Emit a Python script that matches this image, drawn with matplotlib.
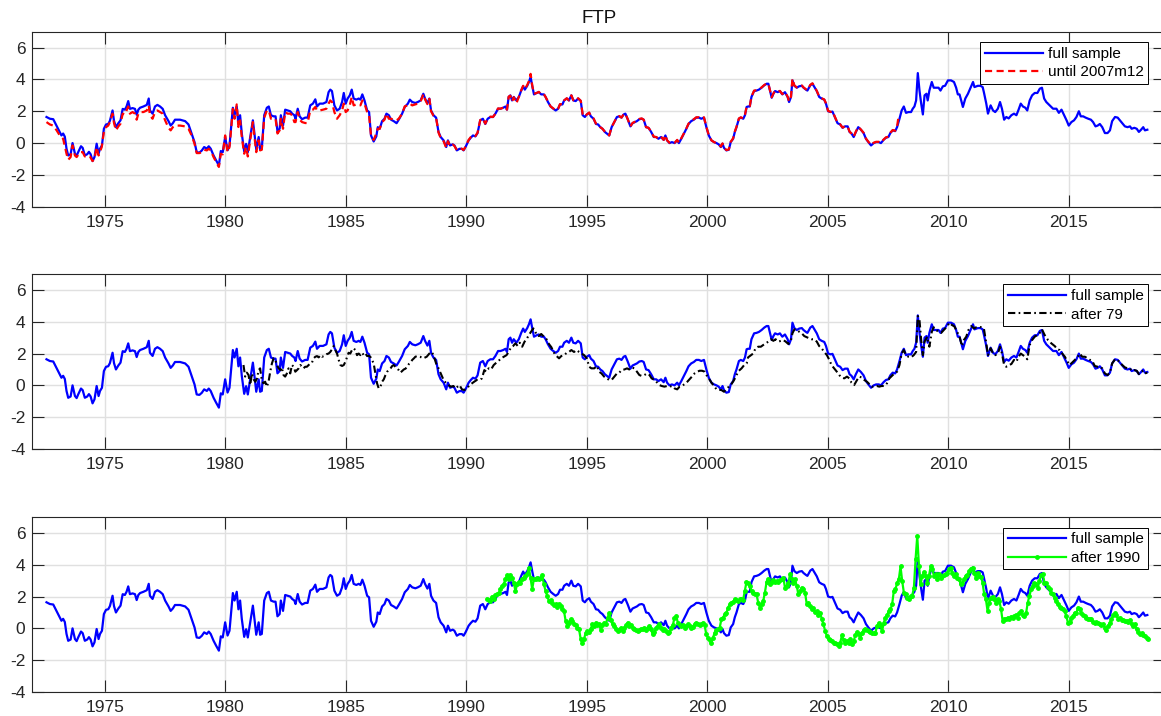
import numpy as np
import matplotlib
matplotlib.use("Agg")
import matplotlib.pyplot as plt

plt.rcParams['font.family'] = ['Liberation Sans', 'DejaVu Sans']
plt.rcParams['axes.unicode_minus'] = False

# ---- FTP estimates (decimal year, value) ----
full_sample = [
    (1972.59, 1.64), (1972.73, 1.53), (1972.87, 1.50), (1973.07, 0.90), (1973.21, 0.48), (1973.28, 0.60),
    (1973.35, 0.40), (1973.42, -0.35), (1973.49, -0.78), (1973.59, -0.70), (1973.67, 0.00), (1973.77, -0.67),
    (1973.84, -0.80), (1973.91, -0.55), (1974.02, -0.20), (1974.09, -0.30), (1974.18, -0.78), (1974.28, -0.70),
    (1974.35, -0.55), (1974.42, -0.70), (1974.50, -1.13), (1974.58, -0.88), (1974.67, -0.04), (1974.75, -0.67),
    (1974.81, -0.35), (1974.89, -0.15), (1974.97, 0.90), (1975.06, 1.17), (1975.15, 1.20), (1975.22, 1.40),
    (1975.33, 2.05), (1975.39, 1.40), (1975.47, 1.00), (1975.57, 1.25), (1975.66, 1.43), (1975.75, 2.15),
    (1975.84, 2.10), (1975.91, 2.30), (1975.98, 2.64), (1976.05, 2.15), (1976.16, 2.20), (1976.26, 2.15),
    (1976.33, 1.78), (1976.40, 2.10), (1976.47, 2.22), (1976.61, 2.30), (1976.75, 2.40), (1976.83, 2.80),
    (1976.88, 2.05), (1976.99, 1.85), (1977.09, 2.30), (1977.19, 2.40), (1977.30, 2.30), (1977.41, 2.15),
    (1977.51, 1.75), (1977.65, 1.38), (1977.74, 1.10), (1977.83, 1.25), (1977.92, 1.47), (1978.13, 1.47),
    (1978.34, 1.38), (1978.48, 1.17), (1978.61, 0.60), (1978.73, 0.06), (1978.82, -0.57), (1978.93, -0.60),
    (1979.03, -0.47), (1979.13, -0.25), (1979.24, -0.35), (1979.32, -0.20), (1979.40, -0.35), (1979.52, -0.78),
    (1979.63, -1.10), (1979.74, -1.40), (1979.82, -0.50), (1979.90, -0.57), (1980.00, 0.38), (1980.10, -0.45),
    (1980.18, -0.15), (1980.25, 1.00), (1980.32, 2.22), (1980.39, 1.75), (1980.48, 2.30), (1980.55, 1.20),
    (1980.62, 1.75), (1980.69, 0.60), (1980.79, -0.53), (1980.87, -0.05), (1980.94, -0.57), (1981.04, 0.38),
    (1981.15, 1.43), (1981.20, 0.80), (1981.29, -0.40), (1981.39, 0.38), (1981.45, -0.40), (1981.52, -0.35),
    (1981.62, 1.75), (1981.73, 2.22), (1981.81, 2.30), (1981.90, 1.75), (1982.01, 1.68), (1982.09, 1.68),
    (1982.17, 0.76), (1982.26, 0.90), (1982.31, 1.75), (1982.40, 1.10), (1982.49, 2.10), (1982.59, 2.05),
    (1982.70, 2.00), (1982.78, 1.85), (1982.87, 1.75), (1982.92, 1.53), (1983.01, 2.16), (1983.09, 1.68),
    (1983.19, 1.50), (1983.32, 1.60), (1983.42, 1.60), (1983.53, 2.37), (1983.64, 2.48), (1983.74, 2.75),
    (1983.81, 2.30), (1983.92, 2.48), (1984.06, 2.48), (1984.20, 2.58), (1984.29, 3.20), (1984.36, 3.36),
    (1984.43, 3.27), (1984.53, 2.37), (1984.64, 2.05), (1984.75, 2.16), (1984.85, 2.58), (1984.92, 3.15),
    (1985.00, 2.48), (1985.08, 2.80), (1985.17, 3.00), (1985.25, 3.36), (1985.33, 2.80), (1985.44, 2.73),
    (1985.54, 2.80), (1985.61, 2.73), (1985.69, 3.06), (1985.78, 2.68), (1985.89, 2.05), (1985.97, 1.95),
    (1986.05, 0.48), (1986.16, 0.10), (1986.27, 0.42), (1986.33, 1.00), (1986.41, 0.90), (1986.51, 1.38),
    (1986.61, 1.53), (1986.69, 1.85), (1986.79, 1.75), (1986.88, 1.47), (1986.99, 1.38), (1987.11, 1.25),
    (1987.20, 1.47), (1987.34, 1.85), (1987.45, 2.27), (1987.58, 2.48), (1987.66, 2.73), (1987.76, 2.58),
    (1987.89, 2.52), (1987.99, 2.58), (1988.11, 2.68), (1988.22, 3.10), (1988.29, 2.80), (1988.39, 2.50),
    (1988.47, 2.80), (1988.54, 2.05), (1988.64, 1.75), (1988.75, 1.60), (1988.85, 0.70), (1988.94, 0.38),
    (1989.06, 0.17), (1989.17, -0.25), (1989.24, 0.17), (1989.33, -0.15), (1989.44, -0.08), (1989.51, -0.15),
    (1989.61, -0.46), (1989.72, -0.36), (1989.82, -0.36), (1989.89, -0.46), (1989.97, -0.25), (1990.10, 0.17),
    (1990.19, 0.34), (1990.28, 0.48), (1990.38, 0.42), (1990.47, 0.63), (1990.58, 1.43), (1990.69, 1.53),
    (1990.79, 1.20), (1990.89, 1.53), (1991.00, 1.64), (1991.11, 1.64), (1991.21, 1.85), (1991.32, 2.16),
    (1991.42, 2.16), (1991.53, 2.22), (1991.63, 2.30), (1991.69, 2.10), (1991.76, 2.90), (1991.83, 3.00),
    (1991.90, 2.68), (1991.97, 2.90), (1992.08, 2.68), (1992.18, 2.90), (1992.28, 3.30), (1992.36, 3.57),
    (1992.43, 3.36), (1992.53, 3.60), (1992.60, 3.84), (1992.67, 4.15), (1992.74, 3.57), (1992.81, 3.06),
    (1992.92, 3.15), (1993.01, 3.20), (1993.11, 3.06), (1993.22, 3.06), (1993.29, 2.90), (1993.39, 2.58),
    (1993.50, 2.30), (1993.61, 2.16), (1993.71, 2.05), (1993.81, 2.16), (1993.89, 2.43), (1993.99, 2.43),
    (1994.06, 2.68), (1994.17, 2.80), (1994.26, 2.68), (1994.36, 3.00), (1994.44, 2.68), (1994.54, 2.64),
    (1994.64, 2.80), (1994.75, 2.64), (1994.83, 1.75), (1994.92, 1.64), (1995.00, 1.80), (1995.10, 1.90),
    (1995.17, 1.68), (1995.28, 1.53), (1995.38, 1.20), (1995.47, 1.17), (1995.56, 1.00), (1995.65, 0.90),
    (1995.75, 0.70), (1995.83, 0.60), (1995.93, 0.48), (1996.03, 1.00), (1996.14, 1.32), (1996.25, 1.64),
    (1996.35, 1.68), (1996.44, 1.60), (1996.53, 1.80), (1996.60, 1.85), (1996.69, 1.53), (1996.81, 1.05),
    (1996.90, 1.25), (1997.00, 1.32), (1997.08, 1.38), (1997.18, 1.50), (1997.28, 1.53), (1997.36, 1.47),
    (1997.46, 1.00), (1997.56, 0.96), (1997.67, 0.70), (1997.78, 0.38), (1997.88, 0.38), (1997.97, 0.27),
    (1998.08, 0.38), (1998.19, 0.20), (1998.26, 0.48), (1998.33, 0.17), (1998.43, 0.00), (1998.53, 0.06),
    (1998.64, 0.00), (1998.75, 0.17), (1998.82, 0.00), (1998.92, 0.27), (1999.03, 0.60), (1999.13, 0.90),
    (1999.22, 1.20), (1999.33, 1.38), (1999.44, 1.47), (1999.54, 1.60), (1999.65, 1.60), (1999.75, 1.53),
    (1999.86, 1.60), (1999.96, 1.00), (2000.06, 0.48), (2000.17, 0.17), (2000.28, 0.06), (2000.38, 0.00),
    (2000.47, -0.08), (2000.56, -0.25), (2000.63, -0.04), (2000.69, -0.30), (2000.79, -0.46), (2000.89, -0.42),
    (2000.97, 0.06), (2001.07, 0.27), (2001.14, 0.70), (2001.21, 1.00), (2001.31, 1.53), (2001.39, 1.60),
    (2001.49, 1.53), (2001.56, 1.75), (2001.63, 2.27), (2001.69, 2.30), (2001.76, 2.30), (2001.83, 2.90),
    (2001.94, 3.27), (2002.04, 3.30), (2002.14, 3.36), (2002.25, 3.48), (2002.36, 3.63), (2002.46, 3.73),
    (2002.53, 3.73), (2002.60, 3.30), (2002.67, 2.85), (2002.74, 3.10), (2002.81, 3.27), (2002.92, 3.20),
    (2003.01, 3.27), (2003.11, 3.06), (2003.22, 3.20), (2003.33, 2.90), (2003.39, 2.58), (2003.47, 2.90),
    (2003.53, 3.94), (2003.61, 3.60), (2003.71, 3.48), (2003.81, 3.57), (2003.92, 3.60), (2003.99, 3.48),
    (2004.09, 3.36), (2004.15, 3.30), (2004.27, 3.63), (2004.36, 3.73), (2004.43, 3.55), (2004.54, 3.27),
    (2004.64, 2.90), (2004.74, 2.80), (2004.85, 2.73), (2004.92, 2.48), (2005.01, 2.00), (2005.12, 1.95),
    (2005.19, 1.98), (2005.29, 1.64), (2005.40, 1.25), (2005.51, 1.17), (2005.61, 0.96), (2005.71, 1.05),
    (2005.82, 1.05), (2005.90, 0.70), (2005.98, 0.60), (2006.07, 0.38), (2006.16, 0.70), (2006.26, 1.00),
    (2006.37, 0.84), (2006.48, 0.63), (2006.58, 0.27), (2006.68, 0.06), (2006.79, -0.15), (2006.90, 0.00),
    (2007.00, 0.06), (2007.11, 0.06), (2007.20, 0.00), (2007.31, 0.20), (2007.41, 0.34), (2007.51, 0.38),
    (2007.59, 0.63), (2007.69, 0.80), (2007.79, 0.75), (2007.87, 1.00), (2007.97, 1.53), (2008.06, 2.05),
    (2008.15, 2.30), (2008.24, 1.90), (2008.34, 1.95), (2008.45, 1.95), (2008.52, 2.16), (2008.59, 2.30),
    (2008.66, 2.68), (2008.73, 4.40), (2008.80, 3.30), (2008.87, 2.48), (2008.94, 1.80), (2009.01, 3.00),
    (2009.09, 3.10), (2009.14, 2.68), (2009.21, 3.30), (2009.31, 3.84), (2009.39, 3.48), (2009.49, 3.48),
    (2009.59, 3.48), (2009.67, 3.30), (2009.77, 3.57), (2009.86, 3.60), (2009.98, 3.94), (2010.11, 3.94),
    (2010.23, 3.84), (2010.32, 3.48), (2010.39, 3.06), (2010.46, 3.06), (2010.53, 2.68), (2010.60, 2.27),
    (2010.70, 2.80), (2010.81, 3.10), (2010.92, 3.48), (2011.02, 3.84), (2011.08, 3.52), (2011.22, 3.60),
    (2011.33, 3.60), (2011.42, 3.52), (2011.47, 3.20), (2011.57, 2.48), (2011.64, 1.85), (2011.75, 2.37),
    (2011.85, 2.05), (2011.94, 1.95), (2012.05, 2.16), (2012.14, 2.58), (2012.22, 2.16), (2012.31, 1.47),
    (2012.40, 1.64), (2012.50, 1.55), (2012.61, 1.75), (2012.72, 1.85), (2012.82, 1.75), (2012.91, 2.10),
    (2013.00, 2.48), (2013.09, 2.30), (2013.19, 2.22), (2013.27, 2.05), (2013.37, 2.68), (2013.47, 3.00),
    (2013.58, 3.15), (2013.69, 3.15), (2013.79, 3.42), (2013.88, 3.48), (2013.97, 2.80), (2014.06, 2.58),
    (2014.20, 2.37), (2014.34, 2.16), (2014.48, 2.16), (2014.58, 1.90), (2014.69, 2.10), (2014.80, 1.75),
    (2014.90, 1.43), (2014.99, 1.10), (2015.10, 1.32), (2015.21, 1.43), (2015.31, 1.64), (2015.41, 2.00),
    (2015.49, 1.68), (2015.59, 1.68), (2015.69, 1.60), (2015.80, 1.53), (2015.91, 1.47), (2016.00, 1.32),
    (2016.10, 1.05), (2016.19, 1.10), (2016.28, 1.20), (2016.38, 1.00), (2016.49, 0.63), (2016.60, 0.63),
    (2016.70, 0.80), (2016.79, 1.38), (2016.91, 1.64), (2017.02, 1.60), (2017.11, 1.43), (2017.21, 1.25),
    (2017.32, 1.05), (2017.43, 1.00), (2017.53, 1.05), (2017.60, 0.90), (2017.71, 0.96), (2017.81, 0.90),
    (2017.90, 0.70), (2017.99, 0.84), (2018.08, 1.00), (2018.15, 0.80), (2018.25, 0.84),
]

until_2007m12 = [
    (1972.59, 1.32), (1972.73, 1.17), (1972.87, 1.10), (1973.01, 0.80), (1973.14, 0.48), (1973.28, 0.27),
    (1973.42, -0.67), (1973.49, -1.05), (1973.59, -0.88), (1973.67, -0.15), (1973.77, -0.78), (1973.84, -0.88),
    (1973.98, -0.57), (1974.09, -0.57), (1974.18, -0.84), (1974.28, -0.78), (1974.39, -0.84), (1974.50, -1.13),
    (1974.58, -0.98), (1974.67, -0.25), (1974.75, -0.78), (1974.88, -0.25), (1974.97, 0.70), (1975.06, 1.00),
    (1975.15, 1.10), (1975.22, 1.32), (1975.33, 1.85), (1975.39, 1.26), (1975.47, 0.80), (1975.57, 1.05),
    (1975.66, 1.22), (1975.75, 1.85), (1975.84, 1.80), (1975.98, 2.30), (1976.05, 1.85), (1976.16, 1.95),
    (1976.26, 1.85), (1976.33, 1.47), (1976.40, 1.85), (1976.47, 1.95), (1976.61, 1.95), (1976.75, 2.05),
    (1976.83, 2.37), (1976.88, 1.75), (1976.99, 1.53), (1977.09, 1.95), (1977.19, 2.05), (1977.30, 1.95),
    (1977.41, 1.85), (1977.51, 1.43), (1977.65, 0.96), (1977.74, 0.80), (1977.83, 1.00), (1977.92, 1.10),
    (1978.13, 1.10), (1978.34, 1.05), (1978.48, 0.90), (1978.61, 0.48), (1978.73, -0.04), (1978.82, -0.63),
    (1978.93, -0.63), (1979.03, -0.57), (1979.13, -0.42), (1979.24, -0.46), (1979.32, -0.36), (1979.40, -0.46),
    (1979.52, -0.88), (1979.63, -1.20), (1979.74, -1.50), (1979.82, -0.67), (1979.90, -0.71), (1980.00, 0.48),
    (1980.10, -0.57), (1980.18, -0.25), (1980.25, 0.90), (1980.32, 2.15), (1980.39, 1.53), (1980.48, 2.43),
    (1980.55, 1.01), (1980.62, 1.43), (1980.69, 0.38), (1980.79, -0.67), (1980.87, -0.25), (1980.94, -0.84),
    (1981.04, 0.17), (1981.15, 1.32), (1981.20, 0.59), (1981.29, -0.57), (1981.39, 0.17), (1981.45, -0.46),
    (1981.52, -0.42), (1981.62, 1.59), (1981.73, 2.05), (1981.81, 2.05), (1981.90, 1.53), (1982.01, 1.53),
    (1982.09, 1.53), (1982.17, 0.60), (1982.26, 0.80), (1982.31, 1.53), (1982.40, 0.90), (1982.49, 1.95),
    (1982.59, 1.85), (1982.70, 1.85), (1982.78, 1.74), (1982.87, 1.32), (1982.92, 1.32), (1983.01, 1.95),
    (1983.09, 1.47), (1983.19, 1.32), (1983.32, 1.26), (1983.42, 1.26), (1983.53, 2.05), (1983.64, 2.10),
    (1983.74, 2.27), (1983.81, 2.05), (1983.92, 2.05), (1984.06, 2.10), (1984.20, 2.16), (1984.29, 2.48),
    (1984.36, 2.68), (1984.43, 2.58), (1984.53, 1.95), (1984.64, 1.53), (1984.75, 1.75), (1984.85, 2.05),
    (1984.92, 2.48), (1985.00, 1.95), (1985.08, 2.05), (1985.17, 2.37), (1985.25, 2.90), (1985.33, 2.37),
    (1985.44, 2.43), (1985.54, 2.43), (1985.61, 2.37), (1985.69, 2.68), (1985.78, 2.48), (1985.89, 1.95),
    (1985.97, 1.74), (1986.05, 0.48), (1986.16, 0.20), (1986.27, 0.60), (1986.33, 0.90), (1986.41, 0.90),
    (1986.51, 1.32), (1986.61, 1.47), (1986.69, 1.85), (1986.79, 1.53), (1986.88, 1.53), (1986.99, 1.47),
    (1987.11, 1.43), (1987.20, 1.53), (1987.34, 1.85), (1987.45, 2.31), (1987.58, 2.37), (1987.66, 2.48),
    (1987.76, 2.37), (1987.89, 2.43), (1987.99, 2.48), (1988.11, 2.62), (1988.22, 3.08), (1988.29, 2.75),
    (1988.39, 2.45), (1988.47, 2.78), (1988.54, 2.00), (1988.64, 1.72), (1988.75, 1.58), (1988.85, 0.66),
    (1988.94, 0.32), (1989.06, 0.12), (1989.17, -0.30), (1989.24, 0.12), (1989.33, -0.20), (1989.44, -0.10),
    (1989.51, -0.18), (1989.61, -0.44), (1989.72, -0.34), (1989.82, -0.36), (1989.89, -0.44), (1989.97, -0.22),
    (1990.10, 0.20), (1990.19, 0.38), (1990.28, 0.50), (1990.38, 0.44), (1990.47, 0.66), (1990.58, 1.45),
    (1990.69, 1.55), (1990.79, 1.22), (1990.89, 1.55), (1991.00, 1.66), (1991.11, 1.64), (1991.21, 1.85),
    (1991.32, 2.18), (1991.42, 2.16), (1991.53, 2.22), (1991.63, 2.28), (1991.69, 2.10), (1991.76, 2.92),
    (1991.83, 2.98), (1991.90, 2.62), (1991.97, 2.88), (1992.08, 2.50), (1992.18, 2.90), (1992.28, 3.32),
    (1992.36, 3.60), (1992.43, 3.40), (1992.53, 3.65), (1992.60, 3.90), (1992.67, 4.35), (1992.74, 3.60),
    (1992.81, 3.10), (1992.92, 3.15), (1993.01, 3.22), (1993.11, 3.06), (1993.22, 3.08), (1993.29, 2.90),
    (1993.39, 2.60), (1993.50, 2.30), (1993.61, 2.18), (1993.71, 2.05), (1993.81, 2.16), (1993.89, 2.45),
    (1993.99, 2.43), (1994.06, 2.68), (1994.17, 2.82), (1994.26, 2.68), (1994.36, 3.00), (1994.44, 2.70),
    (1994.54, 2.64), (1994.64, 2.82), (1994.75, 2.66), (1994.83, 1.80), (1994.92, 1.66), (1995.00, 1.80),
    (1995.10, 1.92), (1995.17, 1.68), (1995.28, 1.55), (1995.38, 1.22), (1995.47, 1.17), (1995.56, 1.00),
    (1995.65, 0.90), (1995.75, 0.72), (1995.83, 0.60), (1995.93, 0.48), (1996.03, 1.00), (1996.14, 1.32),
    (1996.25, 1.64), (1996.35, 1.70), (1996.44, 1.60), (1996.53, 1.82), (1996.60, 1.85), (1996.69, 1.53),
    (1996.81, 1.05), (1996.90, 1.27), (1997.00, 1.34), (1997.08, 1.38), (1997.18, 1.52), (1997.28, 1.55),
    (1997.36, 1.47), (1997.46, 1.00), (1997.56, 0.96), (1997.67, 0.72), (1997.78, 0.40), (1997.88, 0.38),
    (1997.97, 0.27), (1998.08, 0.40), (1998.19, 0.20), (1998.26, 0.50), (1998.33, 0.17), (1998.43, 0.02),
    (1998.53, 0.08), (1998.64, 0.02), (1998.75, 0.20), (1998.82, 0.02), (1998.92, 0.30), (1999.03, 0.62),
    (1999.13, 0.92), (1999.22, 1.22), (1999.33, 1.40), (1999.44, 1.50), (1999.54, 1.62), (1999.65, 1.62),
    (1999.75, 1.55), (1999.86, 1.62), (1999.96, 1.02), (2000.06, 0.50), (2000.17, 0.17), (2000.28, 0.06),
    (2000.38, 0.00), (2000.47, -0.06), (2000.56, -0.22), (2000.63, -0.02), (2000.69, -0.28), (2000.79, -0.44),
    (2000.89, -0.40), (2000.97, 0.08), (2001.07, 0.30), (2001.14, 0.72), (2001.21, 1.02), (2001.31, 1.55),
    (2001.39, 1.62), (2001.49, 1.55), (2001.56, 1.78), (2001.63, 2.30), (2001.69, 2.32), (2001.76, 2.32),
    (2001.83, 2.92), (2001.94, 3.30), (2002.04, 3.32), (2002.14, 3.38), (2002.25, 3.50), (2002.36, 3.65),
    (2002.46, 3.74), (2002.53, 3.74), (2002.60, 3.32), (2002.67, 2.88), (2002.74, 3.12), (2002.81, 3.28),
    (2002.92, 3.22), (2003.01, 3.28), (2003.11, 3.08), (2003.22, 3.22), (2003.33, 2.92), (2003.39, 2.62),
    (2003.47, 2.92), (2003.53, 4.05), (2003.61, 3.62), (2003.71, 3.50), (2003.81, 3.60), (2003.92, 3.62),
    (2003.99, 3.50), (2004.09, 3.38), (2004.15, 3.32), (2004.27, 3.66), (2004.36, 3.76), (2004.43, 3.58),
    (2004.54, 3.28), (2004.64, 2.92), (2004.74, 2.82), (2004.85, 2.74), (2004.92, 2.50), (2005.01, 2.02),
    (2005.12, 1.96), (2005.19, 2.00), (2005.29, 1.66), (2005.40, 1.27), (2005.51, 1.18), (2005.61, 0.97),
    (2005.71, 1.06), (2005.82, 1.04), (2005.90, 0.72), (2005.98, 0.60), (2006.07, 0.40), (2006.16, 0.72),
    (2006.26, 1.02), (2006.37, 0.85), (2006.48, 0.65), (2006.58, 0.28), (2006.68, 0.08), (2006.79, -0.12),
    (2006.90, 0.02), (2007.00, 0.08), (2007.11, 0.08), (2007.20, 0.02), (2007.31, 0.22), (2007.41, 0.36),
    (2007.51, 0.40), (2007.59, 0.65), (2007.69, 0.82), (2007.79, 0.77), (2007.87, 1.05), (2007.92, 1.55),
]

after_79 = [
    (1980.76, 1.28), (1980.83, 0.55), (1980.90, 0.80), (1980.97, 0.65), (1981.04, 0.02), (1981.11, 0.75),
    (1981.18, 0.38), (1981.25, 0.23), (1981.32, 0.44), (1981.39, 0.96), (1981.45, 1.07), (1981.52, 0.34),
    (1981.59, 0.13), (1981.66, 0.23), (1981.73, -0.08), (1981.80, 0.23), (1981.87, 0.86), (1981.94, 1.38),
    (1982.01, 1.70), (1982.08, 1.60), (1982.15, 1.28), (1982.22, 1.07), (1982.29, 0.96), (1982.35, 1.13),
    (1982.42, 0.65), (1982.49, 0.55), (1982.56, 0.75), (1982.63, 1.07), (1982.70, 0.75), (1982.77, 1.28),
    (1982.84, 1.17), (1982.91, 0.86), (1982.98, 0.96), (1983.05, 1.07), (1983.12, 1.28), (1983.19, 1.17),
    (1983.25, 1.07), (1983.32, 1.17), (1983.39, 1.17), (1983.46, 1.28), (1983.53, 1.38), (1983.60, 1.43),
    (1983.67, 1.70), (1983.74, 1.80), (1983.81, 1.84), (1983.88, 1.76), (1983.95, 1.90), (1984.02, 1.80),
    (1984.09, 1.84), (1984.16, 1.90), (1984.22, 1.97), (1984.29, 2.00), (1984.36, 2.10), (1984.43, 2.26),
    (1984.50, 2.47), (1984.57, 2.22), (1984.64, 2.00), (1984.71, 1.60), (1984.78, 1.28), (1984.85, 1.22),
    (1984.92, 1.28), (1984.99, 1.49), (1985.06, 1.80), (1985.12, 2.05), (1985.19, 2.00), (1985.26, 2.22),
    (1985.33, 2.33), (1985.40, 2.22), (1985.47, 1.90), (1985.54, 2.00), (1985.61, 1.90), (1985.68, 2.05),
    (1985.75, 1.90), (1985.82, 2.00), (1985.89, 1.84), (1985.96, 1.86), (1986.02, 1.80), (1986.09, 1.60),
    (1986.16, 1.38), (1986.23, 0.75), (1986.30, 0.13), (1986.37, -0.19), (1986.44, -0.08), (1986.51, 0.23),
    (1986.58, 0.38), (1986.65, 0.65), (1986.72, 0.86), (1986.79, 0.96), (1986.86, 1.07), (1986.93, 1.22),
    (1986.99, 1.28), (1987.06, 1.17), (1987.13, 1.07), (1987.20, 0.96), (1987.27, 0.80), (1987.34, 0.90),
    (1987.41, 1.00), (1987.48, 1.05), (1987.55, 1.17), (1987.62, 1.34), (1987.69, 1.43), (1987.76, 1.60),
    (1987.83, 1.70), (1987.89, 1.80), (1987.96, 1.84), (1988.08, 1.80), (1988.22, 1.70), (1988.36, 1.80),
    (1988.47, 2.00), (1988.57, 2.10), (1988.64, 1.90), (1988.75, 1.38), (1988.85, 1.07), (1988.94, 0.75),
    (1989.06, 0.34), (1989.17, 0.13), (1989.26, 0.02), (1989.36, -0.08), (1989.47, -0.04), (1989.54, -0.19),
    (1989.64, -0.08), (1989.72, 0.02), (1989.82, -0.25), (1989.92, -0.29), (1990.03, -0.19), (1990.14, 0.02),
    (1990.24, 0.13), (1990.33, 0.23), (1990.44, 0.34), (1990.56, 0.34), (1990.65, 0.44), (1990.75, 0.96),
    (1990.83, 0.86), (1990.93, 1.07), (1991.03, 1.00), (1991.14, 1.28), (1991.25, 1.43), (1991.35, 1.55),
    (1991.44, 1.70), (1991.56, 1.80), (1991.67, 1.90), (1991.76, 2.10), (1991.86, 2.40), (1991.94, 2.47),
    (1992.04, 2.64), (1992.14, 2.47), (1992.22, 2.68), (1992.32, 2.43), (1992.42, 2.75), (1992.50, 2.90),
    (1992.60, 3.17), (1992.69, 3.37), (1992.78, 3.58), (1992.83, 3.52), (1992.92, 3.17), (1993.01, 3.10),
    (1993.11, 3.23), (1993.22, 3.06), (1993.33, 2.90), (1993.43, 2.60), (1993.53, 2.40), (1993.64, 2.05),
    (1993.75, 1.84), (1993.85, 1.70), (1993.94, 1.84), (1994.06, 1.90), (1994.17, 2.05), (1994.26, 2.10),
    (1994.36, 2.22), (1994.47, 2.10), (1994.58, 2.22), (1994.68, 2.10), (1994.78, 2.00), (1994.89, 1.90),
    (1995.00, 1.70), (1995.10, 1.17), (1995.19, 1.07), (1995.31, 1.07), (1995.42, 1.22), (1995.51, 0.86),
    (1995.61, 0.75), (1995.72, 0.55), (1995.83, 0.44), (1995.93, 0.34), (1996.03, 0.34), (1996.14, 0.55),
    (1996.25, 0.75), (1996.35, 0.80), (1996.44, 0.96), (1996.56, 1.00), (1996.67, 1.07), (1996.76, 1.00),
    (1996.86, 1.13), (1996.97, 1.07), (1997.08, 0.86), (1997.18, 0.65), (1997.28, 0.59), (1997.39, 0.65),
    (1997.50, 0.75), (1997.60, 0.65), (1997.69, 0.44), (1997.81, 0.34), (1997.92, 0.17), (1998.01, 0.02),
    (1998.11, -0.04), (1998.22, -0.08), (1998.33, -0.04), (1998.43, -0.08), (1998.53, -0.04), (1998.64, -0.19),
    (1998.75, -0.25), (1998.85, -0.08), (1998.94, -0.04), (1999.06, 0.08), (1999.17, 0.23), (1999.26, 0.38),
    (1999.36, 0.55), (1999.47, 0.75), (1999.58, 0.86), (1999.68, 0.92), (1999.78, 0.92), (1999.89, 0.86),
    (2000.00, 0.55), (2000.10, 0.34), (2000.19, 0.13), (2000.28, -0.04), (2000.38, -0.25), (2000.47, -0.29),
    (2000.58, -0.29), (2000.69, -0.40), (2000.79, -0.25), (2000.89, -0.08), (2001.00, 0.08), (2001.11, 0.34),
    (2001.21, 0.65), (2001.31, 0.92), (2001.42, 1.07), (2001.53, 1.28), (2001.63, 1.38), (2001.69, 1.76),
    (2001.81, 1.90), (2001.90, 2.00), (2002.00, 2.33), (2002.11, 2.43), (2002.22, 2.43), (2002.32, 2.54),
    (2002.42, 2.64), (2002.53, 2.75), (2002.64, 2.90), (2002.74, 2.80), (2002.83, 2.90), (2002.94, 2.75),
    (2003.06, 2.80), (2003.15, 2.85), (2003.25, 2.75), (2003.36, 2.60), (2003.47, 2.85), (2003.53, 3.27),
    (2003.61, 3.52), (2003.71, 3.50), (2003.81, 3.37), (2003.92, 3.27), (2004.02, 3.10), (2004.13, 3.02),
    (2004.22, 2.96), (2004.32, 2.90), (2004.43, 2.90), (2004.54, 2.75), (2004.64, 2.47), (2004.74, 2.33),
    (2004.85, 2.10), (2004.96, 1.90), (2005.06, 1.60), (2005.15, 1.28), (2005.26, 1.07), (2005.37, 0.86),
    (2005.47, 0.65), (2005.57, 0.50), (2005.68, 0.44), (2005.79, 0.55), (2005.89, 0.44), (2005.98, 0.17),
    (2006.09, 0.02), (2006.21, 0.34), (2006.30, 0.55), (2006.40, 0.50), (2006.51, 0.34), (2006.62, 0.23),
    (2006.72, 0.08), (2006.82, -0.08), (2006.93, -0.08), (2007.04, -0.04), (2007.13, -0.08), (2007.23, -0.04),
    (2007.34, -0.04), (2007.45, 0.13), (2007.55, 0.44), (2007.65, 0.59), (2007.76, 0.75), (2007.87, 0.86),
    (2007.97, 1.28), (2008.06, 2.00), (2008.15, 2.22), (2008.24, 1.90), (2008.34, 1.80), (2008.45, 1.76),
    (2008.56, 1.90), (2008.66, 2.10), (2008.73, 4.36), (2008.80, 4.10), (2008.87, 2.85), (2008.94, 1.90),
    (2009.01, 2.75), (2009.12, 3.06), (2009.21, 2.43), (2009.31, 3.37), (2009.39, 3.65), (2009.49, 3.48),
    (2009.59, 3.37), (2009.70, 3.30), (2009.81, 3.48), (2009.91, 3.65), (2010.05, 3.94), (2010.14, 3.80),
    (2010.25, 3.70), (2010.36, 3.37), (2010.46, 3.06), (2010.56, 2.47), (2010.64, 2.85), (2010.74, 3.06),
    (2010.83, 3.48), (2010.95, 3.73), (2011.06, 3.58), (2011.15, 3.65), (2011.25, 3.70), (2011.36, 3.65),
    (2011.47, 3.58), (2011.57, 2.64), (2011.64, 1.90), (2011.75, 2.33), (2011.85, 2.00), (2011.94, 1.90),
    (2012.05, 2.00), (2012.14, 2.43), (2012.22, 2.00), (2012.31, 1.28), (2012.40, 1.17), (2012.50, 1.28),
    (2012.61, 1.34), (2012.72, 1.60), (2012.82, 1.49), (2012.91, 1.80), (2013.00, 2.00), (2013.09, 1.90),
    (2013.19, 1.80), (2013.27, 1.64), (2013.37, 2.54), (2013.47, 2.85), (2013.58, 3.06), (2013.69, 3.17),
    (2013.79, 3.30), (2013.88, 3.52), (2013.99, 3.17), (2014.13, 2.85), (2014.27, 2.64), (2014.41, 2.47),
    (2014.52, 2.26), (2014.62, 2.22), (2014.72, 2.00), (2014.83, 1.80), (2014.94, 1.49), (2015.03, 1.28),
    (2015.13, 1.43), (2015.24, 1.60), (2015.35, 1.76), (2015.45, 2.00), (2015.55, 1.80), (2015.66, 1.80),
    (2015.77, 1.70), (2015.87, 1.60), (2015.96, 1.55), (2016.07, 1.22), (2016.19, 1.17), (2016.28, 1.17),
    (2016.38, 1.07), (2016.49, 0.75), (2016.60, 0.65), (2016.70, 0.80), (2016.79, 1.38), (2016.91, 1.64),
    (2017.02, 1.60), (2017.11, 1.43), (2017.21, 1.28), (2017.32, 1.13), (2017.43, 1.07), (2017.53, 1.07),
    (2017.60, 0.92), (2017.71, 0.96), (2017.81, 0.92), (2017.90, 0.71), (2017.99, 0.86), (2018.08, 0.92),
    (2018.15, 0.75), (2018.25, 0.80),
]

# sample after 1990: evenly spaced observations from 1990.86 to 2018.29
after_1990_start, after_1990_end = 1990.86, 2018.29
after_1990 = [
    1.85, 1.79, 1.72, 2.00, 1.83, 2.08, 2.14, 2.20, 2.46, 2.67, 2.77, 3.09, 3.34, 3.09, 3.34, 3.19, 2.88, 2.35,
    2.77, 2.92, 2.84, 3.09, 3.19, 3.30, 3.40, 3.82, 3.19, 2.46, 3.09, 3.09, 3.19, 3.09, 3.19, 3.34, 2.77, 2.35,
    2.04, 1.72, 1.79, 1.58, 1.45, 1.51, 1.37, 1.51, 1.41, 1.20, 1.09, 0.46, 0.15, 0.36, 0.57, 0.46, 0.25, 0.19,
    0.04, -0.06, -0.69, -0.90, -0.65, -0.27, -0.17, -0.23, -0.02, 0.25, 0.15, 0.36, 0.19, 0.25, -0.10, 0.19,
    0.36, 0.25, 0.67, 0.95, 0.53, 0.25, 0.15, -0.06, -0.17, -0.10, 0.04, -0.17, 0.04, 0.19, 0.36, 0.15, 0.19,
    0.04, -0.06, -0.10, -0.17, -0.10, -0.02, -0.06, 0.04, -0.10, 0.04, 0.15, -0.06, -0.38, -0.23, 0.04, 0.15,
    0.25, 0.04, -0.10, -0.02, -0.17, -0.32, -0.23, 0.04, 0.19, 0.67, 0.78, 0.36, 0.19, 0.15, 0.19, 0.04, 0.15,
    0.25, 0.15, 0.04, 0.10, 0.25, 0.36, 0.25, 0.19, 0.25, 0.36, 0.19, -0.38, -0.59, -0.74, -0.90, -0.59, -0.27,
    -0.10, -0.06, 0.04, 0.57, 0.67, 0.88, 0.95, 1.30, 1.51, 1.62, 1.66, 1.83, 1.79, 1.72, 1.83, 1.87, 1.79,
    2.35, 2.92, 2.88, 2.67, 2.35, 2.20, 2.14, 2.14, 1.62, 1.30, 1.51, 1.72, 2.25, 2.92, 3.09, 2.77, 2.92, 3.05,
    2.92, 2.98, 2.92,
    3.05, 3.09, 3.19, 2.56, 2.67, 2.84, 3.40, 3.09, 2.88, 3.09, 2.67, 2.14, 2.35, 2.56, 2.46, 2.25, 1.51, 1.62,
    1.41, 1.24, 1.30, 1.03, 1.09, 0.82, 0.99, 0.57, 0.25, -0.17, -0.48, -0.65, -0.74, -0.80, -0.90, -0.95,
    -1.01, -1.11, -0.90, -0.44, -0.74, -0.90, -0.80, -0.90, -0.69, -1.01, -0.80, -0.44, -0.23, -0.38, -0.59,
    -0.27, -0.10, -0.06, -0.10, -0.17, -0.23, -0.27, -0.32, -0.27, 0.15, 0.32, 0.19, -0.17, 0.36, 0.67, 0.82,
    1.09, 1.20, 1.51, 2.35, 2.46, 2.88, 3.09, 3.89, 2.98, 2.25, 2.14, 1.93, 1.87, 2.04, 2.04, 2.56, 4.35, 5.82,
    3.93, 2.77, 3.30, 3.55, 3.30, 2.88, 3.30, 3.89, 3.72, 3.30, 3.40, 3.09, 3.40, 3.19, 3.30, 3.34, 3.40, 3.51,
    3.72, 3.82, 3.51, 3.30, 3.40, 3.19, 3.09, 2.77, 2.88, 3.09, 3.30, 3.34, 3.61, 3.76, 3.82, 3.51, 3.19, 3.51,
    3.30, 3.26, 2.88, 2.14, 1.83, 1.09, 1.62, 1.93, 2.00, 1.83, 1.62, 1.83, 1.72, 1.24, 0.46, 0.57, 0.61, 0.67,
    0.61, 0.74, 0.67, 0.78, 0.82, 0.67, 0.99, 1.09, 0.82, 0.78, 0.95, 1.62, 2.04, 2.46, 2.67, 2.84, 2.77, 2.56,
    2.98, 3.34, 3.40, 2.88, 2.84, 2.63, 2.50, 2.25, 2.14, 1.93, 1.72, 1.51, 1.37, 1.30, 1.20, 1.09, 0.78, 0.36,
    0.40, 0.67, 0.78, 0.99, 0.95, 1.30, 1.20, 0.95, 0.82, 0.78, 0.67, 0.61, 0.61, 0.57, 0.40, 0.36, 0.40, 0.36,
    0.25, 0.19, 0.25, 0.04, -0.10, 0.15, 0.36, 0.57, 0.82, 0.95, 0.82, 0.61, 0.67, 0.53, 0.53, 0.46, 0.46, 0.40,
    0.53, 0.25, 0.15, 0.25, -0.06, -0.23, -0.38, -0.32, -0.44, -0.48, -0.59, -0.65,
]

year_ticks = [1975, 1980, 1985, 1990, 1995, 2000, 2005, 2010, 2015]
value_ticks = [-4, -2, 0, 2, 4, 6]


def unzip(pairs):
    arr = np.array(pairs, dtype=float)
    return arr[:, 0], arr[:, 1]


t_full, v_full = unzip(full_sample)
t_07, v_07 = unzip(until_2007m12)
t_79, v_79 = unzip(after_79)
v_90 = np.array(after_1990)
t_90 = np.linspace(after_1990_start, after_1990_end, len(v_90))

AXCOL = '#262626'
BLUE = (0, 0, 1)

fig = plt.figure(figsize=(11.61, 7.16), dpi=100)
left, width, height = 0.0278, 0.9760, 0.2444
bottoms = [0.7113, 0.3729, 0.0335]
axes = [fig.add_axes([left, b, width, height]) for b in bottoms]


def style(ax):
    ax.set_xlim(1972, 2019)
    ax.set_ylim(-4, 7)
    ax.set_xticks(year_ticks)
    ax.set_yticks(value_ticks)
    ax.grid(True, color='#e0e0e0', linewidth=1.0)
    ax.set_axisbelow(True)
    ax.tick_params(direction='in', length=8.5, width=0.8, color=AXCOL, labelcolor=AXCOL,
                   labelsize=12.5, top=True, right=True)
    ax.tick_params(axis='x', pad=6)
    ax.tick_params(axis='y', pad=5)
    for s in ax.spines.values():
        s.set_color(AXCOL)
        s.set_linewidth(0.8)


def legend(ax, anchor):
    leg = ax.legend(loc='upper right', bbox_to_anchor=anchor, fontsize=11, frameon=True,
                    fancybox=False, framealpha=1, edgecolor='black', handlelength=3.8,
                    handletextpad=0.35, borderpad=0.3, labelspacing=0.3, borderaxespad=0,
                    numpoints=1)
    leg.get_frame().set_linewidth(0.7)
    return leg


# top: full sample vs. sample ending 2007m12
ax = axes[0]
style(ax)
ax.plot(t_full, v_full, color=BLUE, lw=1.6, label='full sample')
ax.plot(t_07, v_07, color=(1, 0, 0), lw=1.6, linestyle=(0, (3.2, 2.0)), label='until 2007m12')
ax.set_title('FTP', fontsize=13.5, pad=6, color='#111111')
legend(ax, (0.985, 0.9394))

# middle: full sample vs. sample after 1979
ax = axes[1]
style(ax)
ax.plot(t_full, v_full, color=BLUE, lw=1.6, label='full sample')
ax.plot(t_79, v_79, color='black', lw=1.5, linestyle=(0, (3.5, 1.6, 0.8, 1.6)), label='after 79')
legend(ax, (0.985, 0.941))

# bottom: full sample vs. sample after 1990
ax = axes[2]
style(ax)
ax.plot(t_full, v_full, color=BLUE, lw=1.6, label='full sample')
ax.plot(t_90, v_90, color=(0, 1, 0), lw=1.6, marker='.', markersize=5, label='after 1990')
legend(ax, (0.985, 0.939))

fig.savefig('out.png', dpi=100)
